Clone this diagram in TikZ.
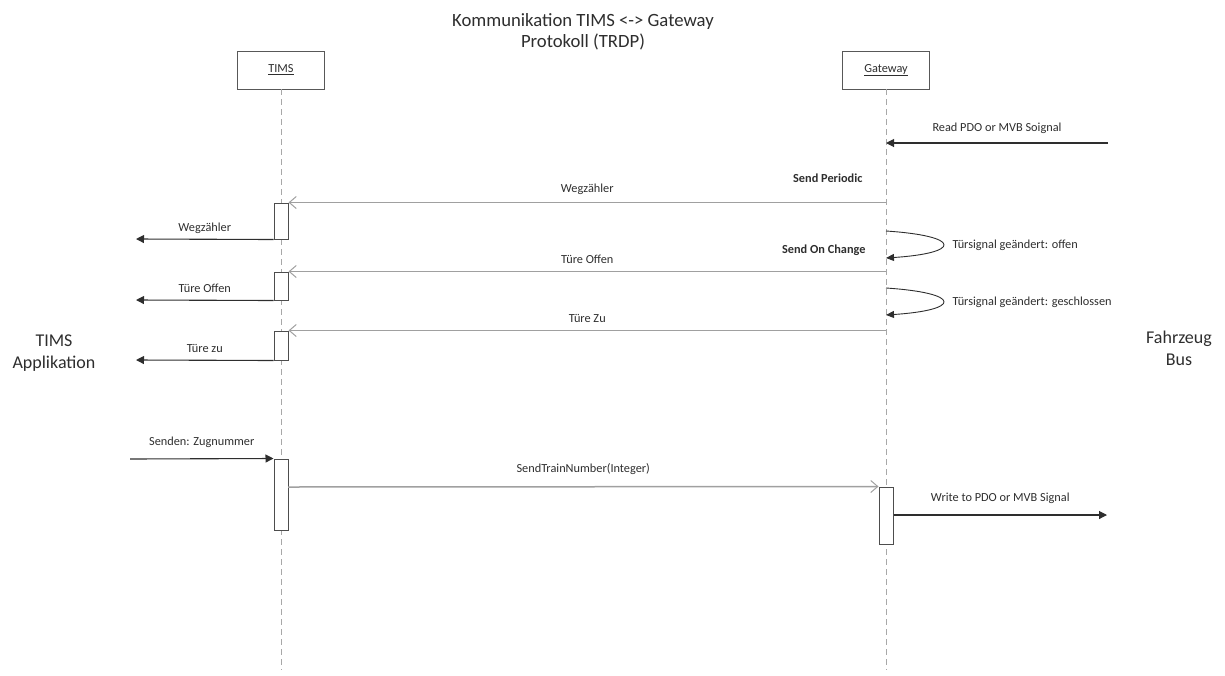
\documentclass[tikz,border=0pt]{standalone}
\usepackage{fontspec}
\setmainfont{Carlito}
\usetikzlibrary{arrows.meta}
\definecolor{ink}{HTML}{2E2E2E}
\definecolor{msggray}{HTML}{A0A0A0}
\definecolor{lifegray}{HTML}{A8A8A8}
\begin{document}
\begin{tikzpicture}[x=1pt,y=-1pt,
  every node/.style={text=ink,font=\fontsize{12.3}{14}\selectfont},
  participant/.style={draw=ink!80,line width=0.9pt,fill=white,minimum width=87pt,minimum height=38pt,inner sep=0pt},
  lifeline/.style={draw=lifegray,line width=1pt,dash pattern=on 6pt off 4pt},
  actbox/.style={draw=ink!85,line width=1pt,fill=white,minimum width=14pt,inner sep=0pt},
  syncmsg/.style={draw=msggray,line width=1.5pt,-{Straight Barb[length=7pt,width=12pt,line width=1pt]}},
  extmsg/.style={draw=ink,line width=1.1pt,-{Triangle[length=8pt,width=8pt]}},
  selfmsg/.style={draw=ink,line width=0.9pt,-{Triangle[length=8pt,width=7pt]}},
  msglabel/.style={text height=8.5pt,text depth=2.5pt,inner sep=0pt},
  bigtext/.style={font=\fontsize{18}{22}\selectfont,align=center}
]
\useasboundingbox (0,0) rectangle (1225,675);

% heading
\node[font=\fontsize{18.7}{21}\selectfont,align=center] (title) at (583,32)
  {Kommunikation TIMS <-> Gateway\\Protokoll (TRDP)};

% side labels
\node[bigtext] (app) at (54,353) {TIMS\\Applikation};
\node[bigtext] (bus) at (1179,348) {Fahrzeug\\Bus};

% participants and lifelines
\node[participant] (tims) at (281,70) {\underline{TIMS}};
\node[participant] (gw) at (886,70) {\underline{Gateway}};
\coordinate (timsEnd) at (281,670);
\coordinate (gwEnd) at (886,670);
\draw[lifeline] (tims.south) -- (timsEnd);
\draw[lifeline] (gw.south) -- (gwEnd);

% activation bars on TIMS
\node[actbox,minimum height=36pt] (a1) at (281,221) {};
\node[actbox,minimum height=28pt] (a2) at (281,286) {};
\node[actbox,minimum height=29pt] (a3) at (281,345.5) {};
\node[actbox,minimum height=71pt] (a4) at (281,494.5) {};
% activation bar on Gateway
\node[actbox,minimum height=57pt] (a5) at (886,515.5) {};

% free ends of the external arrows
\coordinate (busRead) at (1108,143);
\coordinate (gwRead) at (886,143);
\coordinate (appOut1) at (136,239);
\coordinate (appOut2) at (136,300);
\coordinate (appOut3) at (136,360);
\coordinate (appIn) at (130,459);
\coordinate (busWrite) at (1107,515);
\coordinate (loopAs) at (886,231);
\coordinate (loopAe) at (886,258);
\coordinate (loopBs) at (886,288);
\coordinate (loopBe) at (886,315);
\coordinate (trainOut) at (288,487);

% incoming bus signal
\draw[extmsg] (busRead) -- node[msglabel,midway,yshift=15pt] {Read PDO or MVB Soignal} (gwRead);

% periodic section
\node[anchor=east,font=\fontsize{12.3}{14}\selectfont\bfseries] (periodic) at (866,178) {Send Periodic};
\draw[syncmsg] (gw |- a1.north) -- node[msglabel,midway,yshift=13pt] {Wegzähler} (a1.north east);
\draw[extmsg] (a1.south west) -- node[msglabel,midway,yshift=11pt] {Wegzähler} (appOut1);

% on-change section
\draw[selfmsg] (loopAs) .. controls (962,236) and (962,253) .. (loopAe);
\node[anchor=west] (loopAlabel) at (949,245) {Türsignal geändert: offen};
\node[anchor=east,font=\fontsize{12.3}{14}\selectfont\bfseries] (onchange) at (869,250) {Send On Change};
\draw[syncmsg] (gw |- a2.north) -- node[msglabel,midway,yshift=11pt] {Türe Offen} (a2.north east);
\draw[extmsg] (a2.south west) -- node[msglabel,midway,yshift=11pt] {Türe Offen} (appOut2);

\draw[selfmsg] (loopBs) .. controls (962,293) and (962,310) .. (loopBe);
\node[anchor=west] (loopBlabel) at (949,302) {Türsignal geändert: geschlossen};
\draw[syncmsg] (gw |- a3.north) -- node[msglabel,midway,yshift=11pt] {Türe Zu} (a3.north east);
\draw[extmsg] (a3.south west) -- node[msglabel,midway,yshift=11pt] {Türe zu} (appOut3);

% train number from the application to the bus
\draw[extmsg] (appIn) -- node[msglabel,midway,yshift=16pt] {Senden: Zugnummer} (a4.north west);
\draw[syncmsg] (trainOut) -- node[msglabel,midway,yshift=17pt] {SendTrainNumber(Integer)} (a5.north west);
\draw[extmsg] (a5.east |- busWrite) -- node[msglabel,midway,yshift=17pt] {Write to PDO or MVB Signal} (busWrite);
\end{tikzpicture}
\end{document}
